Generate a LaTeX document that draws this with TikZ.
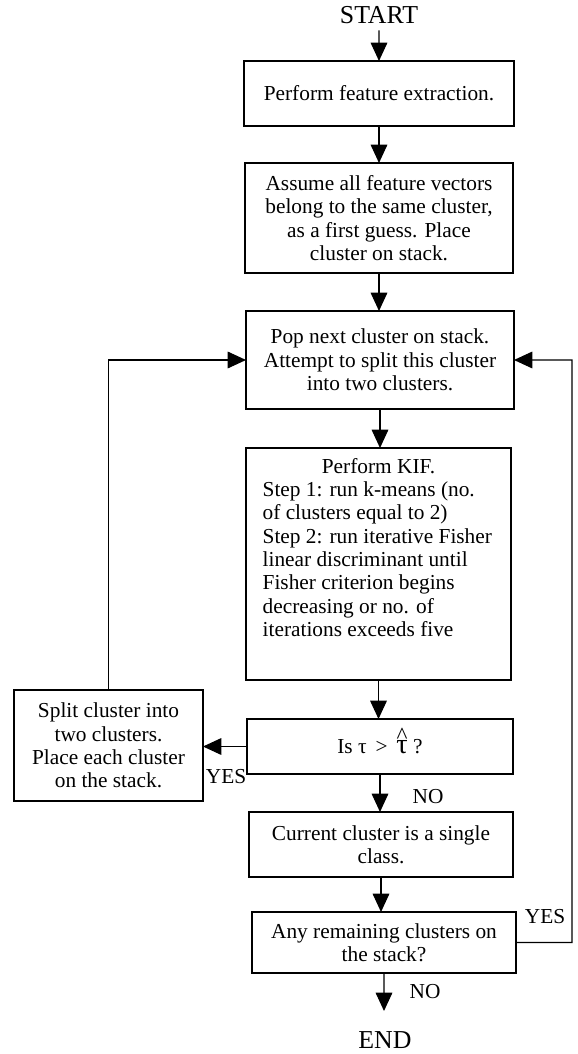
\documentclass[tikz,border=0pt]{standalone}
\usepackage{fontspec}
\setmainfont{Liberation Serif}
\usepackage{tikz}
\usetikzlibrary{arrows.meta}

\newcommand{\tauhat}{{\fontsize{17pt}{17pt}\selectfont\ooalign{τ\cr\hidewidth\raisebox{6pt}{\fontsize{14pt}{14pt}\selectfont\textasciicircum}\hidewidth\cr}}}

\begin{document}
\begin{tikzpicture}[x=0.6pt, y=-0.6pt, outer sep=0pt, font=\fontsize{12.8pt}{14pt}\selectfont]

\tikzstyle{box}=[draw, rectangle, line width=0.8pt, anchor=north west, align=center, inner sep=0pt]
\tikzstyle{arr}=[line width=0.7pt, -{Triangle[length=11pt,width=10pt]}]
\tikzstyle{lbl}=[inner sep=0pt]

\useasboundingbox (0,0) rectangle (577,1054);

\node[lbl, font=\fontsize{15.5pt}{16pt}\selectfont] (start) at (379,15) {START};
\node[box, minimum width=162pt, minimum height=39pt] (extract) at (244,61) {Perform feature extraction.};
\node[box, minimum width=160.8pt, minimum height=66pt] (assume) at (245,163) {Assume all feature vectors\\belong to the same cluster,\\as a first guess. Place\\cluster on stack.};
\node[box, minimum width=160.8pt, minimum height=58.8pt] (pop) at (246,311) {Pop next cluster on stack.\\Attempt to split this cluster\\into two clusters.};
\node[box, minimum width=159pt, minimum height=139.2pt, align=left] (kif) at (246,448) {\parbox[c][133pt][t]{139pt}{\vspace{3pt}\centering Perform KIF.\par\raggedright Step 1: run k-means (no.\\of clusters equal to 2)\\Step 2: run iterative Fisher\\linear discriminant until\\Fisher criterion begins\\decreasing or no. of\\iterations exceeds five}};
\node[box, minimum width=159.6pt, minimum height=33pt] (test) at (247,719) {\raisebox{-4pt}{Is τ \,>\, \tauhat\ ?}};
\node[box, minimum width=113.4pt, minimum height=66.6pt] (split) at (14,690) {Split cluster into\\two clusters.\\Place each cluster\\on the stack.};
\node[box, minimum width=158.4pt, minimum height=39pt] (single) at (249,812) {Current cluster is a single\\class.};
\node[box, minimum width=158.4pt, minimum height=36.6pt] (remain) at (252,912) {Any remaining clusters on\\the stack?};
\node[lbl, font=\fontsize{15.5pt}{16pt}\selectfont] (end) at (385,1040) {END};

\node[lbl] (yes1) at (226,777) {YES}; \node[lbl] (no1) at (428,797) {NO};
\node[lbl] (yes2) at (545,917) {YES}; \node[lbl] (no2) at (425,992) {NO};

\coordinate (loop) at (572,360);
\coordinate (stop) at (384,1011);

\draw[arr, shorten <=4pt] (start) -- (extract);
\draw[arr] (extract) -- (assume);
\draw[arr] (assume.south) -- (assume.south |- pop.north);
\draw[arr] (pop.south) -- (pop.south |- kif.north);
\draw[arr] (kif.south) -- (kif.south |- test.north);
\draw[arr] (test.south) -- (test.south |- single.north);
\draw[arr] (single.south) -- (single.south |- remain.north);
\draw[arr] (remain.south) -- (stop);
\draw[arr] (test.west) -- (test.west -| split.east);
\draw[arr] (split.north) |- (pop.west);
\draw[arr] (remain.east) -| (loop) -- (pop.east);

\end{tikzpicture}
\end{document}
